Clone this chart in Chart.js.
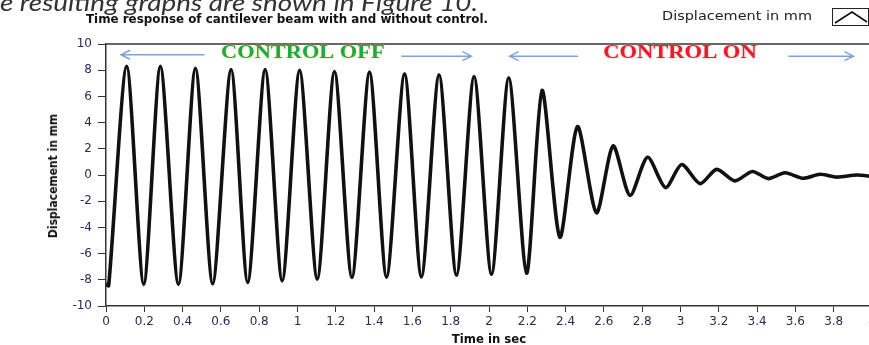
<!DOCTYPE html>
<html>
<head>
<meta charset="utf-8">
<script src="https://cdn.jsdelivr.net/npm/chart.js@4.4.0/dist/chart.umd.min.js"></script>
<style>
  body { margin: 0; width: 869px; height: 345px; overflow: hidden; background: #fff; position: relative; }
  #wrap { position: absolute; left: 0; top: 0; width: 890px; height: 345px; }
  .txt { position: absolute; white-space: nowrap; color: #111; transform-origin: 0 50%; line-height: 1; }
  #above { left: 0; top: -13px; font: italic 24px Lato, "Open Sans", sans-serif; color: #333; }
  #title { left: 86px; top: 11px; font: bold 12.5px "DejaVu Sans Condensed", "DejaVu Sans", sans-serif; font-stretch: condensed; }
  #legend { left: 662px; top: 8px; font: 13px "DejaVu Sans", sans-serif; color: #222; }
  #ylab { left: 53px; top: 176px; transform: translate(-50%, -50%) rotate(-90deg); transform-origin: 50% 50%; font: bold 12px "DejaVu Sans Condensed", "DejaVu Sans", sans-serif; font-stretch: condensed; }
  #xlab { left: 489px; top: 338px; transform: translate(-50%, -50%); transform-origin: 50% 50%; font: bold 13px "DejaVu Sans Condensed", "DejaVu Sans", sans-serif; font-stretch: condensed; }
  #legbox { position: absolute; left: 832px; top: 8px; }
</style>
</head>
<body>
<div id="wrap"><canvas id="chart"></canvas></div>
<div class="txt" id="above">e resulting graphs are shown in Figure 10.</div>
<div class="txt" id="title">Time response of cantilever beam with and without control.</div>
<div class="txt" id="legend">Displacement in mm</div>
<svg id="legbox" width="37" height="18">
  <rect x="0.5" y="0.5" width="36" height="17" fill="#fff" stroke="#222" stroke-width="1"/>
  <polyline points="3,15 20,4 35,14" fill="none" stroke="#111" stroke-width="1.6"/>
</svg>
<div class="txt" id="ylab">Displacement in mm</div>
<div class="txt" id="xlab">Time in sec</div>

<script>
// peaks and troughs (time in sec, displacement in mm)
const times = [0, 0.014, 0.108, 0.197, 0.284, 0.378, 0.467, 0.557, 0.653, 0.740,
  0.831, 0.920, 1.011, 1.103, 1.193, 1.284, 1.376, 1.465, 1.559, 1.647,
  1.739, 1.830, 1.922, 2.013, 2.103, 2.196, 2.277, 2.370, 2.462, 2.561,
  2.648, 2.736, 2.828, 2.922, 3.006, 3.102, 3.189, 3.284, 3.375, 3.459,
  3.546, 3.641, 3.729, 3.816, 3.921, 4.0];
const displacement = [-8.3, -8.45, 8.3, -8.35, 8.3, -8.35, 8.15, -8.3, 8.05, -8.2,
  8.05, -8.08, 8.0, -7.95, 7.9, -7.83, 7.85, -7.8, 7.72, -7.78,
  7.65, -7.65, 7.52, -7.58, 7.42, -7.5, 6.45, -4.75, 3.7, -2.88,
  2.22, -1.55, 1.35, -0.96, 0.8, -0.66, 0.43, -0.45, 0.27, -0.28,
  0.17, -0.25, 0.06, -0.16, 0.0, -0.12];

const xTicks = { min: 0, max: 4, step: 0.2 };
const yTicks = { min: -10, max: 10, step: 2 };

const points = times.map((t, i) => ({ x: t, y: displacement[i] }));

// stretch a label so it covers the same width as in the reference
function fitWidth(id, target) {
  const el = document.getElementById(id);
  const w = el.getBoundingClientRect().width;
  el.style.transform = 'scaleX(' + (target / w) + ')';
}
fitWidth('above', 478);
fitWidth('title', 402);
fitWidth('legend', 150);

// arrows + CONTROL OFF / ON labels, frame top line
const annotate = {
  id: 'annotate',
  afterDraw(chart) {
    const { ctx, chartArea, scales: { x, y } } = chart;
    ctx.save();
    ctx.strokeStyle = '#333';
    ctx.lineWidth = 1.5;
    ctx.beginPath();
    ctx.moveTo(chartArea.left, chartArea.top);
    ctx.lineTo(chartArea.right, chartArea.top);
    ctx.stroke();

    const arrow = (t0, t1, v, dir) => {
      const a = x.getPixelForValue(t0), b = x.getPixelForValue(t1), py = y.getPixelForValue(v);
      ctx.strokeStyle = '#7ea3d6';
      ctx.lineWidth = 1.5;
      ctx.beginPath();
      ctx.moveTo(a, py); ctx.lineTo(b, py);
      const tip = dir < 0 ? a : b;
      ctx.moveTo(tip - dir * 9, py - 4.5); ctx.lineTo(tip, py); ctx.lineTo(tip - dir * 9, py + 4.5);
      ctx.stroke();
    };
    const label = (text, t0, t1, v, color, glow) => {
      const a = x.getPixelForValue(t0), b = x.getPixelForValue(t1), py = y.getPixelForValue(v);
      ctx.font = 'bold 18.5px "Liberation Serif", serif';
      const w = ctx.measureText(text).width;
      ctx.save();
      ctx.translate((a + b) / 2, py);
      ctx.scale((b - a) / w, 1);
      ctx.textAlign = 'center';
      ctx.textBaseline = 'middle';
      ctx.shadowColor = glow;
      ctx.shadowBlur = 2;
      ctx.fillStyle = color;
      ctx.fillText(text, 0, 0);
      ctx.restore();
    };
    arrow(0.078, 0.514, 9.18, -1);
    label('CONTROL OFF', 0.601, 1.455, 9.28, '#1fa84a', 'rgba(220,215,60,0.9)');
    arrow(1.542, 1.908, 9.07, 1);
    arrow(2.108, 2.465, 9.07, -1);
    label('CONTROL ON', 2.596, 3.398, 9.28, '#ec1c2a', 'rgba(240,120,140,0.8)');
    arrow(3.563, 3.903, 9.07, 1);
    ctx.restore();
  }
};

const fmt = v => String(Number(v.toFixed(1)));

new Chart(document.getElementById('chart'), {
  type: 'line',
  data: {
    datasets: [{
      label: 'Displacement in mm',
      data: points,
      borderColor: '#111',
      borderWidth: 3.6,
      pointRadius: 0,
      tension: 0.26,
      fill: false
    }]
  },
  options: {
    responsive: true,
    maintainAspectRatio: false,
    animation: false,
    layout: { padding: { top: 44, right: 18, left: 0, bottom: 0 } },
    plugins: { legend: { display: false }, tooltip: { enabled: false } },
    scales: {
      x: {
        type: 'linear',
        min: xTicks.min, max: xTicks.max,
        afterFit: s => { s.height = 39; },
        grid: { display: true, drawOnChartArea: false, drawTicks: true, tickLength: 6, color: '#333' },
        border: { display: true, color: '#333', width: 1.5 },
        ticks: {
          stepSize: xTicks.step, autoSkip: false, maxRotation: 0, padding: 3,
          color: '#2a2a55', font: { family: '"DejaVu Sans"', size: 12 },
          callback: fmt
        }
      },
      y: {
        min: yTicks.min, max: yTicks.max,
        afterFit: s => { s.width = 106; },
        grid: { display: true, drawOnChartArea: false, drawTicks: true, tickLength: 8, color: '#333' },
        border: { display: true, color: '#333', width: 1.5 },
        ticks: {
          stepSize: yTicks.step, padding: 6,
          color: '#2a2a55', font: { family: '"DejaVu Sans"', size: 12 },
          callback: fmt
        }
      }
    }
  },
  plugins: [annotate]
});
</script>
</body>
</html>
